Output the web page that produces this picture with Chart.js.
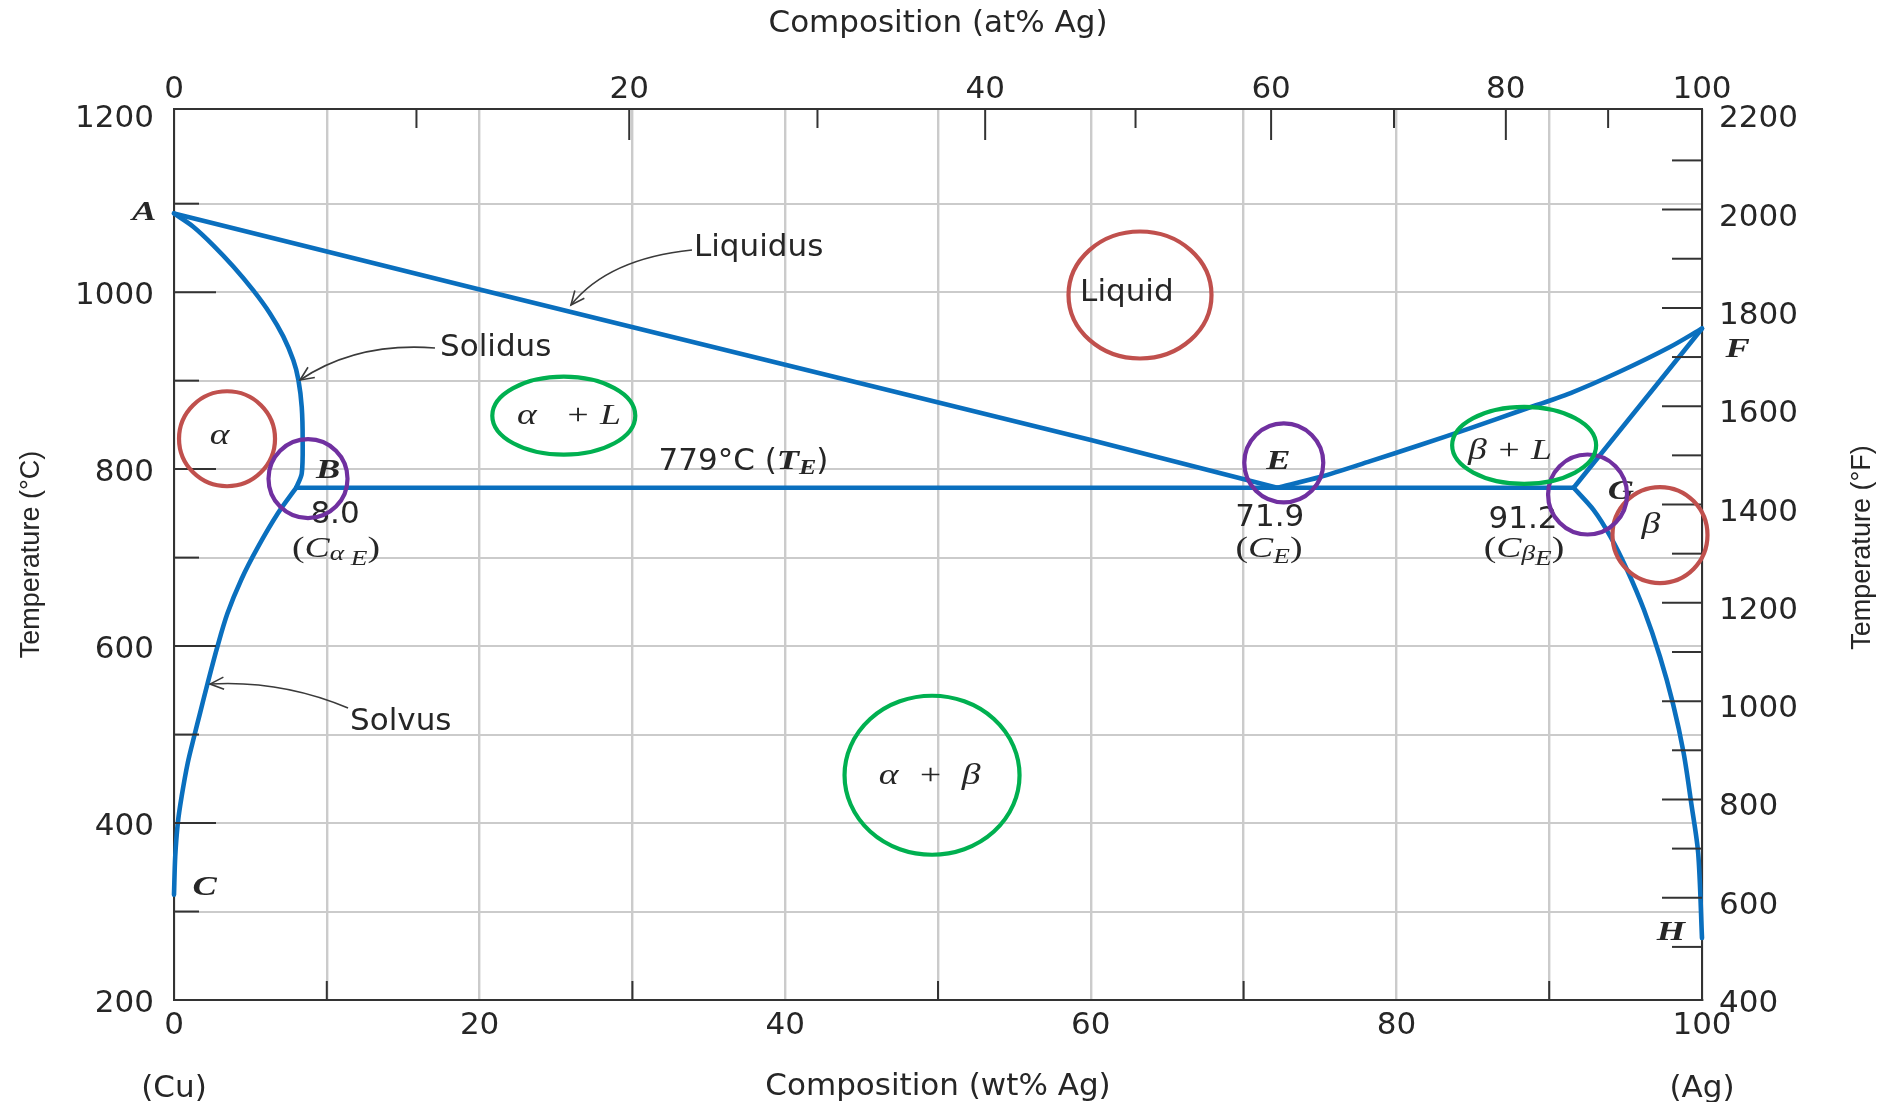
<!DOCTYPE html>
<html>
<head>
<meta charset="utf-8">
<script src="https://cdn.jsdelivr.net/npm/chart.js@4.4.1/dist/chart.umd.min.js"></script>
<style>
html,body{margin:0;padding:0;background:#ffffff;}
#wrap{width:1883px;height:1102px;position:relative;}
</style>
</head>
<body>
<div id="wrap"><canvas id="c" width="1883" height="1102"></canvas></div>
<script>
// ---------------- DATA (composition in wt% Ag, temperature in °C) ----------------
const liquidusLeft  = [[0,1089],[20,1003],[40,918],[60,833],[72.2,779]];
const liquidusRight = [[72.2,779],[75.0,791],[78.3,809],[81.5,827],[84.8,846],[88.1,866],[91.4,886],[94.6,910],[97.9,938],[100,959]];
const solidusLeft   = [[0,1089],[1.26,1074],[2.57,1053],[3.88,1029],[5.19,1002],[6.28,976],[7.15,950],[7.81,923],[8.14,901],[8.36,870],[8.42,833],[8.36,795],[8.0,779]];
const solidusRight  = [[100,959],[91.6,779]];
const solvusLeft    = [[8.0,779],[6.8,750],[5.5,712],[4.4,675],[3.5,637],[2.85,600],[2.2,558],[1.7,524],[1.35,500],[0.9,468],[0.5,430],[0.25,400],[0.08,362],[0,319]];
const solvusRight   = [[91.6,779],[92.9,754],[94.0,724],[95.1,686],[96.2,641],[97.25,588],[98.1,535],[98.8,479],[99.3,422],[99.75,366],[100,270]];
const eutecticLine  = [[8.0,779],[91.6,779]];

// tick values / labels
const wtTicks = [0,10,20,30,40,50,60,70,80,90,100];
const atTicks = [0,10,20,30,40,50,60,70,80,90,100];
const tempTicksC = [200,300,400,500,600,700,800,900,1000,1100,1200];
const tempTicksF = [400,500,600,700,800,900,1000,1100,1200,1300,1400,1500,1600,1700,1800,1900,2000,2100,2200];
const tempMinC = 200, tempMaxC = 1207;

// axis conversions (Cu = 63.55, Ag = 107.87 g/mol)
const cToF = c => c * 9 / 5 + 32;
const atToWt = a => 100 * a * 107.87 / (a * 107.87 + (100 - a) * 63.55);

// ---------------- STYLE ----------------
const SANS = '"DejaVu Sans", sans-serif';
const NARROW = '"Liberation Sans", Arial, sans-serif';
const SERIF = '"Liberation Serif", "DejaVu Serif", serif';
const TXT = '#262626';
const BLUE = '#0a6fbe';
const GRID = '#cbcbcb';
const AXIS = '#333333';
const RED = '#c0504d', PURPLE = '#7030a0', GREEN = '#00b050';
const STRETCH = 1.3;

// annotations expressed in data coordinates (wt%, °C)
const letterLabels = [
  {t:'A', wt:-1.96, c:1089.5, b:true}, {t:'B', wt:10.08, c:798, b:true}, {t:'C', wt:2.01, c:327, b:true},
  {t:'E', wt:72.28, c:808.4, b:true}, {t:'F', wt:102.34, c:934.6, b:true}, {t:'G', wt:94.7, c:774.5, b:true},
  {t:'H', wt:97.97, c:275.7, b:true}, {t:'α', wt:2.98, c:836.6, b:false}, {t:'β', wt:96.66, c:736.8, b:false}
];
const phaseLabels = [
  {t:'α   + L', wt:25.85, c:860}, {t:'β + L', wt:87.43, c:820.5}, {t:'α  +  β', wt:49.45, c:453.2}
];
const plainLabels = [
  {t:'Liquid', wt:62.36, c:999, align:'center'},
  {t:'8.0', wt:10.54, c:748, align:'center'},
  {t:'71.9', wt:71.71, c:744.7, align:'center'},
  {t:'91.2', wt:88.29, c:742.5, align:'center'},
  {t:'Liquidus', wt:34.03, c:1049.9, align:'left'},
  {t:'Solidus', wt:17.41, c:936.9, align:'left'},
  {t:'Solvus', wt:11.52, c:514.8, align:'left'}
];
const arrows = [
  {p0:[33.9,1047.6], cp:[28.44,1038], p2:[25.98,985.5]},
  {p0:[17.08,936.9], cp:[11.94,943.7], p2:[8.25,900.7]},
  {p0:[11.39,530], cp:[7.0,561.7], p2:[2.36,557.1]}
];
const ellipses = [
  {wt:63.22, c:996.8, rx:71.5, ry:63.5, col:RED},
  {wt:3.47,  c:834.3, rx:48,   ry:47.5, col:RED},
  {wt:97.25, c:725.5, rx:47.5, ry:48,   col:RED},
  {wt:8.77,  c:789.2, rx:39.5, ry:39.5, col:PURPLE},
  {wt:72.63, c:807.1, rx:39.5, ry:39.5, col:PURPLE},
  {wt:92.51, c:771.3, rx:39.5, ry:40,   col:PURPLE},
  {wt:25.51, c:860.4, rx:71.5, ry:39,   col:GREEN},
  {wt:88.36, c:826.9, rx:72,   ry:38.5, col:GREEN},
  {wt:49.61, c:454.0, rx:87.5, ry:79.5, col:GREEN}
];

// draws a sequence of text runs (each with its own font, vertical shift and horizontal stretch)
function drawRuns(ctx, x, y, runs, align) {
  let w = 0;
  runs.forEach(r => { ctx.font = r.f; r.w = ctx.measureText(r.t).width * (r.sx || 1); w += r.w; });
  let cx = align === 'left' ? x : (align === 'right' ? x - w : x - w / 2);
  ctx.textAlign = 'left';
  runs.forEach(r => {
    ctx.save(); ctx.font = r.f; ctx.translate(cx, y + (r.dy || 0)); ctx.scale(r.sx || 1, 1);
    ctx.fillText(r.t, 0, 0); ctx.restore(); cx += r.w;
  });
}

const diagramPlugin = {
  id: 'diagram',
  afterDatasetsDraw(chart) {
    const ctx = chart.ctx;
    const sx = chart.scales.x, sy = chart.scales.y, sx2 = chart.scales.x2, sy2 = chart.scales.y2;
    const {left, right, top, bottom} = chart.chartArea;
    const P = (wt, c) => [sx.getPixelForValue(wt), sy.getPixelForValue(c)];
    ctx.save();

    // inward tick marks
    ctx.strokeStyle = AXIS; ctx.lineWidth = 2;
    const seg = (a, b, c, d) => { ctx.beginPath(); ctx.moveTo(a, b); ctx.lineTo(c, d); ctx.stroke(); };
    sy.ticks.forEach(t => { if (t.value > tempMinC && t.value < 1200) { const y = sy.getPixelForValue(t.value); seg(left, y, left + (t.value % 200 === 0 ? 42 : 25), y); } });
    sy2.ticks.forEach(t => { if (t.value > 400 && t.value < 2200) { const y = sy2.getPixelForValue(t.value); seg(right - (t.value % 200 === 0 ? 40 : 30), y, right, y); } });
    sx.ticks.forEach(t => { if (t.value % 20 === 10) { const x = sx.getPixelForValue(t.value); seg(x, bottom, x, bottom - 19); } });
    sx2.ticks.forEach((t, i) => { const a = atTicks[i]; if (a > 0 && a < 100) { const x = sx2.getPixelForValue(t.value); seg(x, top, x, top + (a % 20 === 0 ? 31 : 19)); } });

    // arrows
    ctx.strokeStyle = '#3a3a3a'; ctx.lineWidth = 1.6;
    arrows.forEach(a => {
      const p0 = P(...a.p0), cp = P(...a.cp), p2 = P(...a.p2);
      ctx.beginPath(); ctx.moveTo(p0[0], p0[1]); ctx.quadraticCurveTo(cp[0], cp[1], p2[0], p2[1]); ctx.stroke();
      const ang = Math.atan2(p2[1] - cp[1], p2[0] - cp[0]);
      const L = 15, s = 0.42;
      ctx.beginPath();
      ctx.moveTo(p2[0] - L * Math.cos(ang - s), p2[1] - L * Math.sin(ang - s));
      ctx.lineTo(p2[0], p2[1]);
      ctx.lineTo(p2[0] - L * Math.cos(ang + s), p2[1] - L * Math.sin(ang + s));
      ctx.stroke();
    });

    // texts
    ctx.fillStyle = TXT; ctx.textBaseline = 'middle';
    const fB = 'italic bold 28px ' + SERIF, fN = 'italic 29px ' + SERIF;
    letterLabels.forEach(l => { const p = P(l.wt, l.c); drawRuns(ctx, p[0], p[1], [{t:l.t, f:l.b ? fB : fN, sx:STRETCH}], 'center'); });
    phaseLabels.forEach(l => { const p = P(l.wt, l.c); drawRuns(ctx, p[0], p[1], [{t:l.t, f:fN, sx:STRETCH}], 'center'); });
    plainLabels.forEach(l => { const p = P(l.wt, l.c); ctx.font = '31px ' + SANS; ctx.textAlign = l.align; ctx.fillText(l.t, p[0], p[1]); });

    const fS = '31px ' + SANS, fI = 'italic 29px ' + SERIF, fSub = 'italic 21px ' + SERIF, fP = '29px ' + SERIF;
    const k = STRETCH;
    let p = P(37.27, 808.6);
    drawRuns(ctx, p[0], p[1], [{t:'779°C (', f:fS}, {t:'T', f:'italic bold 28px ' + SERIF, sx:k}, {t:'E', f:'italic bold 20px ' + SERIF, dy:7, sx:k}, {t:')', f:fS}], 'center');
    p = P(10.6, 709.7);
    drawRuns(ctx, p[0], p[1], [{t:'(', f:fP, sx:k}, {t:'C', f:fI, sx:k}, {t:'α', f:fSub, dy:5, sx:k}, {t:' E', f:fSub, dy:10, sx:k}, {t:')', f:fP, sx:k}], 'center');
    p = P(71.66, 709.7);
    drawRuns(ctx, p[0], p[1], [{t:'(', f:fP, sx:k}, {t:'C', f:fI, sx:k}, {t:'E', f:fSub, dy:8, sx:k}, {t:')', f:fP, sx:k}], 'center');
    p = P(88.35, 709.7);
    drawRuns(ctx, p[0], p[1], [{t:'(', f:fP, sx:k}, {t:'C', f:fI, sx:k}, {t:'β', f:fSub, dy:5, sx:k}, {t:'E', f:fSub, dy:10, sx:k}, {t:')', f:fP, sx:k}], 'center');

    // (Cu) (Ag) end labels
    ctx.font = '31px ' + SANS; ctx.textAlign = 'center';
    ctx.fillText('(Cu)', sx.getPixelForValue(0), bottom + 89);
    ctx.fillText('(Ag)', sx.getPixelForValue(100), bottom + 89);

    // right axis title (reads bottom-to-top)
    ctx.save();
    ctx.translate(right + 161, (top + bottom) / 2 - 7);
    ctx.rotate(-Math.PI / 2);
    ctx.font = '27px ' + NARROW; ctx.textAlign = 'center';
    ctx.fillText('Temperature (°F)', 0, 0);
    ctx.restore();

    // highlight ellipses
    ctx.lineWidth = 4.2;
    ellipses.forEach(e => {
      const q = P(e.wt, e.c);
      ctx.strokeStyle = e.col;
      ctx.beginPath(); ctx.ellipse(q[0], q[1], e.rx, e.ry, 0, 0, Math.PI * 2); ctx.stroke();
    });
    ctx.restore();
  }
};

const line = (pts, tension) => ({
  data: pts.map(p => ({x: p[0], y: p[1]})),
  showLine: true, borderColor: BLUE, borderWidth: 4.6, pointRadius: 0,
  tension: tension, fill: false, clip: false, borderCapStyle: 'round', borderJoinStyle: 'round'
});

const tickFont = {family: SANS, size: 31};
const border = {display: true, color: AXIS, width: 2};

new Chart(document.getElementById('c'), {
  type: 'scatter',
  data: {
    datasets: [
      line(liquidusLeft, 0), line(liquidusRight, 0.3), line(solidusLeft, 0.3),
      line(solidusRight, 0), line(solvusLeft, 0.3), line(solvusRight, 0.3), line(eutecticLine, 0)
    ]
  },
  options: {
    responsive: false, animation: false, devicePixelRatio: 1,
    layout: {padding: 0},
    plugins: {legend: {display: false}, tooltip: {enabled: false}},
    scales: {
      x: {
        type: 'linear', position: 'bottom', min: 0, max: 100,
        afterBuildTicks: s => { s.ticks = wtTicks.map(v => ({value: v})); },
        afterFit: s => { s.height = 102; },
        ticks: {autoSkip: false, maxRotation: 0, padding: 7, font: tickFont, color: TXT,
                callback: v => (v % 20 === 0 ? String(v) : '')},
        grid: {color: GRID, lineWidth: 2.4, drawTicks: false},
        border: border,
        title: {display: true, text: 'Composition (wt% Ag)', color: TXT, font: {family: SANS, size: 31, lineHeight: 1.0}, padding: {top: 0, bottom: 0}}
      },
      x2: {
        type: 'linear', position: 'top', min: 0, max: 100,
        afterBuildTicks: s => { s.ticks = atTicks.map(a => ({value: atToWt(a)})); },
        afterFit: s => { s.height = 109; },
        ticks: {autoSkip: false, maxRotation: 0, padding: 0, font: tickFont, color: TXT,
                callback: (v, i) => (atTicks[i] % 20 === 0 ? String(atTicks[i]) : '')},
        grid: {display: false, drawTicks: false},
        border: border,
        title: {display: true, text: 'Composition (at% Ag)', color: TXT, font: {family: SANS, size: 31, lineHeight: 1.0}, padding: {top: 8, bottom: 0}}
      },
      y: {
        type: 'linear', position: 'left', min: tempMinC, max: tempMaxC,
        afterBuildTicks: s => { s.ticks = tempTicksC.map(v => ({value: v})); },
        afterFit: s => { s.width = 174; },
        ticks: {autoSkip: false, padding: 20, labelOffset: 4, font: tickFont, color: TXT,
                callback: v => (v % 200 === 0 ? String(v) : '')},
        grid: {color: c => (c.tick && (c.tick.value === 200 || c.tick.value === 1200) ? 'rgba(0,0,0,0)' : GRID), lineWidth: 2, drawTicks: false},
        border: border,
        title: {display: true, text: 'Temperature (°C)', color: TXT, font: {family: NARROW, size: 27, lineHeight: 1.0}, padding: {top: 18, bottom: 0}}
      },
      y2: {
        type: 'linear', position: 'right', min: cToF(tempMinC), max: cToF(tempMaxC),
        afterBuildTicks: s => { s.ticks = tempTicksF.map(v => ({value: v})); },
        afterFit: s => { s.width = 181; },
        ticks: {autoSkip: false, padding: 17, labelOffset: 8, font: tickFont, color: TXT,
                callback: v => (v % 200 === 0 ? String(v) : '')},
        grid: {display: false, drawTicks: false},
        border: border
      }
    }
  },
  plugins: [diagramPlugin]
});
</script>
</body>
</html>
